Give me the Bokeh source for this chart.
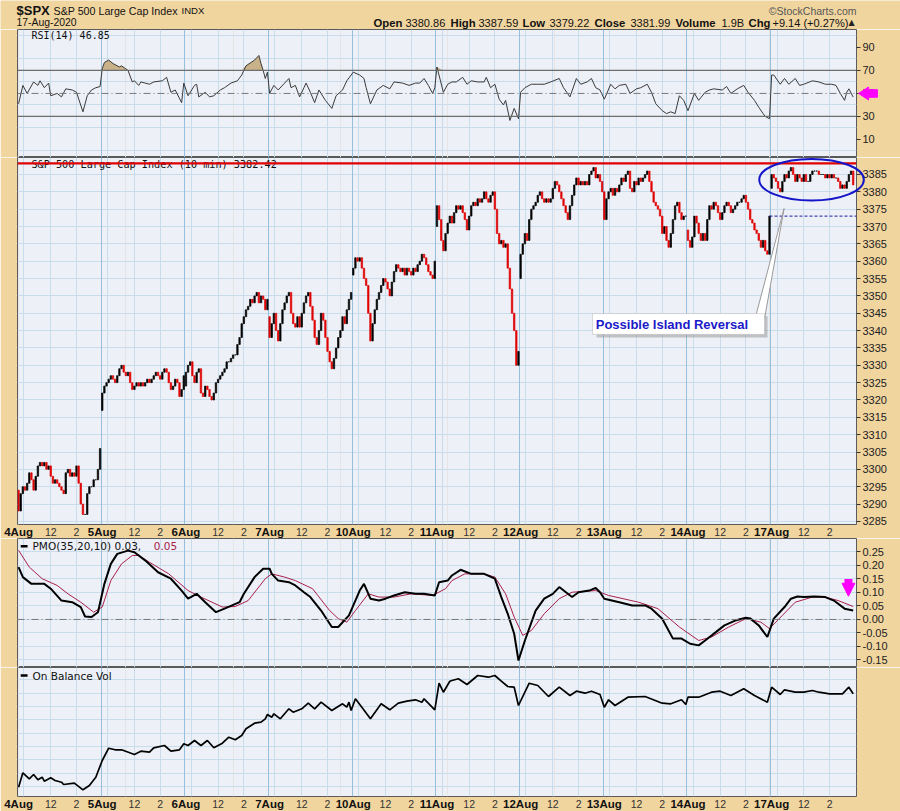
from bokeh.plotting import figure
from bokeh.layouts import column
from bokeh.models import (Range1d, FixedTicker, Grid, Span, Label, Arrow, NormalHead,
                          BoxAnnotation, PrintfTickFormatter, ColumnDataSource)
from bokeh.core.properties import value
from bokeh.embed import file_html
from bokeh.resources import INLINE

# ---------------- data ----------------
day_labels = ["4Aug", "5Aug", "6Aug", "7Aug", "10Aug", "11Aug", "12Aug", "13Aug", "14Aug", "17Aug"]
hour_labels = ["12", "2"]
BARS_PER_DAY = 39          # 10-minute bars 9:30-16:00
HOUR_OFFSETS = [15, 27]    # 12:00 and 14:00 bars
TEN_OFFSET = 2.5           # 10:00

day_opens = [3294, 3317, 3324, 3344, 3356, 3370, 3355, 3380, 3369, 3381]

close_0804 = [3288, 3293, 3295, 3294, 3296, 3299, 3297, 3294, 3298, 3301, 3302, 3301, 3302, 3300, 3301, 3298, 3296, 3297, 3296, 3295,
              3294, 3293, 3299, 3300, 3298, 3299, 3298, 3301, 3296, 3290, 3287, 3287, 3293, 3295, 3295, 3297, 3297, 3300, 3306]
close_0805 = [3322, 3324, 3325, 3326, 3327, 3326, 3325, 3327, 3329, 3330, 3328, 3327, 3328, 3325, 3323, 3324, 3325, 3324, 3325, 3324,
              3325, 3326, 3325, 3326, 3327, 3328, 3327, 3326, 3328, 3329, 3328, 3325, 3323, 3324, 3326, 3325, 3321, 3323, 3327]
close_0806 = [3328, 3330, 3331, 3327, 3325, 3328, 3329, 3322, 3321, 3324, 3323, 3321, 3320, 3322, 3325, 3326, 3327, 3328, 3329, 3331,
              3331, 3332, 3333, 3333, 3336, 3338, 3342, 3344, 3346, 3347, 3349, 3348, 3350, 3351, 3348, 3350, 3349, 3346, 3349]
close_0807 = [3338, 3342, 3345, 3340, 3337, 3342, 3346, 3348, 3350, 3351, 3345, 3342, 3341, 3344, 3341, 3345, 3348, 3350, 3351, 3347,
              3343, 3338, 3336, 3340, 3345, 3343, 3338, 3334, 3331, 3329, 3332, 3335, 3338, 3340, 3344, 3342, 3346, 3349, 3351]
close_0810 = [3358, 3361, 3360, 3361, 3358, 3355, 3353, 3345, 3337, 3342, 3346, 3349, 3351, 3353, 3355, 3354, 3352, 3350, 3354, 3357,
              3359, 3358, 3357, 3358, 3356, 3358, 3357, 3356, 3358, 3357, 3359, 3360, 3362, 3361, 3359, 3357, 3356, 3355, 3360]
close_0811 = [3376, 3372, 3366, 3363, 3368, 3371, 3373, 3371, 3374, 3376, 3375, 3376, 3374, 3372, 3369, 3373, 3376, 3377, 3376, 3378,
              3377, 3378, 3380, 3378, 3377, 3379, 3380, 3375, 3368, 3365, 3366, 3364, 3365, 3358, 3352, 3345, 3340, 3330, 3334]
close_0812 = [3362, 3365, 3368, 3366, 3372, 3375, 3376, 3377, 3379, 3380, 3378, 3377, 3378, 3377, 3378, 3381, 3383, 3382, 3380, 3378,
              3376, 3374, 3372, 3376, 3379, 3382, 3384, 3382, 3383, 3382, 3383, 3382, 3385, 3386, 3387, 3384, 3385, 3383, 3380]
close_0813 = [3372, 3378, 3380, 3381, 3379, 3381, 3380, 3382, 3384, 3383, 3385, 3386, 3381, 3380, 3383, 3382, 3384, 3383, 3384, 3385,
              3386, 3383, 3380, 3377, 3376, 3375, 3373, 3368, 3370, 3366, 3364, 3368, 3372, 3376, 3377, 3374, 3372, 3373, 3373]
close_0814 = [3366, 3364, 3367, 3373, 3371, 3368, 3366, 3368, 3366, 3372, 3376, 3375, 3377, 3376, 3374, 3372, 3374, 3376, 3377, 3376,
              3374, 3375, 3376, 3377, 3377, 3378, 3379, 3377, 3375, 3372, 3371, 3369, 3368, 3366, 3364, 3366, 3363, 3362, 3373]
close_0817 = [3385, 3384, 3383, 3381, 3380, 3383, 3385, 3384, 3386, 3387, 3385, 3383, 3385, 3384, 3383, 3385, 3383, 3383, 3385, 3386,
              3386, 3386, 3385, 3385, 3385, 3384, 3385, 3384, 3385, 3384, 3384, 3383, 3381, 3382, 3381, 3383, 3385, 3386, 3382]
closes_by_day = [close_0804, close_0805, close_0806, close_0807, close_0810,
                 close_0811, close_0812, close_0813, close_0814, close_0817]

RESISTANCE = 3388.2

# (bar index, value)
rsi_points = [(0, 41), (2, 57), (4, 50), (7, 60), (9, 57), (10, 61), (12, 55), (14, 59), (15, 48), (18, 50), (20, 47), (22, 54),
              (25, 53), (27, 51), (30, 34), (32, 48), (34, 53), (36, 55), (38, 56), (39, 71.5), (40, 77), (42, 79), (44, 76),
              (47, 73), (48, 74), (51, 70), (53, 60), (54, 61), (56, 57), (57, 60), (61, 58), (63, 60), (67, 61), (69, 64),
              (71, 51), (73, 53), (76, 42), (77, 59), (79, 48), (82, 57), (83, 58), (84, 47), (87, 51), (89, 47), (91, 48),
              (94, 53), (96, 55), (99, 59), (102, 61), (104, 66), (106, 74), (110, 79), (112, 83), (113, 76), (114, 70),
              (115, 63), (116, 68.5), (117, 50), (119, 57), (121, 53), (124, 59), (126, 63), (127, 55), (129, 57), (131, 47),
              (133, 55), (134, 59), (136, 51), (138, 42), (140, 53), (143, 44), (146, 37), (148, 48), (151, 53), (153, 61),
              (156, 68.5), (159, 66), (161, 63), (162, 55), (164, 41), (167, 53), (170, 57), (173, 54), (175, 60), (179, 59),
              (182, 57), (185, 59), (187, 59), (189, 63), (191, 57), (193, 50), (194, 55), (195, 73), (198, 51), (200, 58),
              (202, 60), (204, 60), (207, 64), (209, 58), (211, 61), (214, 60), (217, 60), (218, 64), (220, 55), (222, 58),
              (224, 45), (226, 40), (227, 44), (229, 26.5), (231, 37), (233, 28), (234, 51), (236, 55), (239, 58), (242, 58),
              (245, 58), (248, 60), (252, 63), (254, 55), (257, 47), (260, 63), (262, 58), (265, 60), (267, 63), (269, 55),
              (271, 53), (273, 45), (276, 58), (278, 54), (280, 57), (283, 58), (285, 50), (288, 54), (290, 55), (293, 58),
              (295, 51), (297, 41), (300, 35), (302, 32.5), (304, 34), (306, 32.5), (308, 48), (310, 44), (312, 35), (315, 50),
              (317, 44), (320, 51), (322, 53), (324, 54), (328, 53), (330, 56), (332, 50), (335, 54), (338, 57), (340, 51),
              (343, 44), (345, 38), (347, 32.5), (348, 30), (350, 28), (351, 66), (352, 66), (355, 58), (357, 63), (359, 58),
              (362, 63), (364, 57), (366, 58), (370, 61), (373, 60), (376, 58), (379, 58), (381, 57), (383, 50), (385, 44),
              (386, 51), (387, 54), (389, 46.85)]

pmo_points = [(0, 0.194), (2, 0.157), (6, 0.132), (12, 0.132), (15, 0.114), (20, 0.070), (25, 0.064), (29, 0.046), (31, 0.011),
              (34, 0.009), (37, 0.027), (40, 0.132), (43, 0.206), (46, 0.243), (51, 0.255), (54, 0.249), (59, 0.219), (65, 0.175),
              (71, 0.151), (76, 0.107), (79, 0.077), (83, 0.095), (87, 0.064), (92, 0.027), (96, 0.040), (103, 0.064),
              (105, 0.095), (110, 0.157), (114, 0.188), (117, 0.188), (118, 0.169), (121, 0.144), (126, 0.138), (129, 0.126),
              (133, 0.101), (136, 0.083), (141, 0.033), (146, -0.028), (149, -0.028), (154, 0.015), (159, 0.107), (161, 0.132),
              (164, 0.077), (168, 0.070), (171, 0.077), (175, 0.089), (180, 0.101), (185, 0.095), (189, 0.095), (194, 0.089),
              (196, 0.138), (200, 0.144), (202, 0.163), (206, 0.184), (211, 0.169), (217, 0.169), (222, 0.151), (225, 0.083),
              (228, 0.021), (231, -0.053), (233, -0.152), (236, -0.078), (241, 0.033), (245, 0.077), (249, 0.095), (252, 0.120),
              (256, 0.095), (258, 0.083), (261, 0.101), (266, 0.107), (269, 0.117), (271, 0.101), (273, 0.077), (280, 0.064),
              (286, 0.052), (292, 0.052), (295, 0.040), (300, 0.003), (305, -0.071), (309, -0.071), (313, -0.090), (317, -0.096),
              (320, -0.078), (325, -0.047), (329, -0.022), (334, -0.004), (339, 0.006), (341, 0.004), (345, -0.022),
              (349, -0.065), (352, 0.003), (357, 0.046), (360, 0.077), (363, 0.085), (366, 0.083), (371, 0.085), (376, 0.083),
              (380, 0.070), (385, 0.040), (389, 0.033)]

pmo_signal_points = [(0, 0.256), (5, 0.194), (11, 0.151), (18, 0.126), (23, 0.095), (29, 0.064), (35, 0.027), (39, 0.046),
                     (43, 0.144), (48, 0.206), (53, 0.237), (56, 0.237), (61, 0.212), (70, 0.169), (79, 0.107), (85, 0.083),
                     (95, 0.046), (101, 0.048), (107, 0.070), (115, 0.151), (118, 0.169), (124, 0.157), (129, 0.144),
                     (137, 0.114), (145, 0.033), (149, 0.003), (153, -0.010), (157, 0.033), (163, 0.095), (168, 0.083),
                     (175, 0.083), (183, 0.095), (193, 0.089), (199, 0.114), (202, 0.144), (208, 0.169), (217, 0.169),
                     (222, 0.157), (227, 0.095), (231, 0.009), (235, -0.059), (239, -0.041), (245, 0.021), (252, 0.077),
                     (258, 0.101), (269, 0.107), (275, 0.089), (289, 0.064), (298, 0.040), (308, -0.028), (317, -0.078),
                     (323, -0.065), (331, -0.028), (339, 0.003), (346, -0.010), (350, -0.034), (356, 0.015), (362, 0.064),
                     (370, 0.083), (376, 0.083), (382, 0.070), (389, 0.048)]

obv_points = [(0, 9.3), (2, 23.7), (5, 17.7), (7, 22), (9, 16.7), (11, 19.3), (12, 15.3), (15, 18.7), (17, 16), (20, 14.3),
              (21, 12), (26, 13.3), (30, 6.7), (33, 11), (36, 19.3), (39, 36), (42, 48.3), (45, 46.7), (48, 46.7), (54, 42),
              (57, 45.3), (61, 44.3), (63, 48.7), (68, 51), (71, 45.3), (75, 46.7), (77, 52.7), (79, 51), (82, 56), (85, 51),
              (88, 56), (91, 48.7), (95, 53.3), (98, 59.3), (101, 56.7), (104, 61), (106, 67.7), (110, 73.3), (113, 74.3),
              (115, 77.7), (116, 82), (118, 79.3), (119, 82.7), (122, 77.7), (126, 87.7), (128, 84.3), (132, 87.7),
              (135, 93.3), (138, 87.7), (141, 94.3), (146, 86), (151, 92.7), (153, 89.3), (154, 94.3), (155, 86),
              (157, 97.7), (160, 89.3), (164, 77.7), (169, 92.7), (173, 86.7), (177, 93.3), (181, 95.3), (185, 96.7),
              (188, 94.3), (189, 97.7), (194, 86.7), (196, 113.3), (198, 104.3), (201, 115.3), (202, 116), (205, 117.7),
              (209, 112), (214, 121), (219, 119.3), (222, 121), (225, 115.3), (228, 110), (231, 109.3), (233, 91),
              (238, 113.3), (242, 111), (247, 100), (252, 109.3), (257, 101), (260, 105.3), (264, 103.3), (267, 105.3),
              (271, 102), (273, 89.3), (275, 96.7), (278, 91), (284, 99.3), (292, 100), (300, 93.3), (304, 92.7),
              (309, 96.7), (311, 92), (312, 99.3), (317, 99.3), (323, 104.3), (327, 105.3), (332, 101), (338, 107.7),
              (343, 101), (349, 94.3), (351, 109.3), (355, 102), (357, 106.7), (362, 104.3), (366, 104.3), (370, 106),
              (373, 104.3), (378, 102.7), (384, 102.7), (387, 109.3), (389, 102.7)]

price_ticks = list(range(3285, 3390, 5))
rsi_ticks = [10, 30, 50, 70, 90]
pmo_ticks = [-0.15, -0.10, -0.05, 0.0, 0.05, 0.10, 0.15, 0.20, 0.25]

header_symbol = "$SPX"
header_name = "S&P 500 Large Cap Index"
header_exch = "INDX"
header_date = "17-Aug-2020"
header_quote = [("Open", "3380.86"), ("High", "3387.59"), ("Low", "3379.22"), ("Close", "3381.99"),
                ("Volume", "1.9B"), ("Chg", "+9.14 (+0.27%)")]
rsi_legend = "RSI(14) 46.85"
price_legend = "S&P 500 Large Cap Index (10 min) 3382.42"
pmo_legend = "PMO(35,20,10) 0.03, "
pmo_signal_legend = "0.05"
obv_legend = "On Balance Vol"
note_text = "Possible Island Reversal"

# ---------------- layout / style ----------------
W = 900
LB, RB = 17, 44
XR = (-0.5, 390.55)
TAN = "#F1D59F"
PANEL_BG = "#EDF0F7"
GRID_C = "#C9DCEB"
DAYGRID_C = "#96BFDC"
MAG = "#FF00FF"
SANS = "Liberation Sans"
MONO = "DejaVu Sans Mono"

x_range = Range1d(*XR)
nd = len(day_labels)
day_grid = [BARS_PER_DAY * d - 0.5 for d in range(1, nd)]
hour_grid = [BARS_PER_DAY * d + o for d in range(nd) for o in [TEN_OFFSET] + HOUR_OFFSETS]


def base_fig(**kw):
    return figure(output_backend="svg", toolbar_location=None, title=None, frame_align=False, **kw)


def panel(height, yr, yticks, gridticks, show_axis=True, fmt=None, bottom=0):
    p = base_fig(width=W, height=height, x_range=x_range, y_range=Range1d(*yr),
                 x_axis_location=None, y_axis_location="right" if show_axis else None,
                 min_border_left=LB, min_border_right=RB, min_border_top=0, min_border_bottom=bottom,
                 border_fill_color=TAN, background_fill_color=PANEL_BG,
                 outline_line_color="#5a5a5a", outline_line_width=1)
    p.ygrid.visible = False
    p.add_layout(Grid(dimension=1, ticker=FixedTicker(ticks=gridticks), grid_line_color=GRID_C))
    p.add_layout(Grid(dimension=0, ticker=FixedTicker(ticks=hour_grid), grid_line_color=GRID_C))
    p.add_layout(Grid(dimension=0, ticker=FixedTicker(ticks=day_grid), grid_line_color=DAYGRID_C))
    if show_axis:
        ax = p.yaxis[0]
        ax.ticker = FixedTicker(ticks=yticks)
        ax.axis_line_color = None
        ax.major_tick_out = 4
        ax.major_tick_in = 0
        ax.minor_tick_line_color = None
        ax.major_tick_line_color = "#333333"
        ax.major_label_text_font = SANS
        ax.major_label_text_font_size = "11px"
        ax.major_label_text_color = "#222222"
        ax.major_label_standoff = 2
        if fmt:
            ax.formatter = PrintfTickFormatter(format=fmt)
    return p


def time_labels(p, y):
    # date / hour labels drawn in the panel's bottom border (overlay level -> not clipped)
    p.text(x=[BARS_PER_DAY * d for d in range(nd)], y=[y] * nd, text=day_labels,
           text_font=value(SANS), text_font_style="bold", text_font_size="11.5px",
           text_color="#111111", text_align="center", text_baseline="middle", level="overlay")
    hx, ht = [], []
    for d in range(nd):
        for o, lab in zip(HOUR_OFFSETS, hour_labels):
            hx.append(BARS_PER_DAY * d + o)
            ht.append(lab)
    p.text(x=hx, y=[y] * len(hx), text=ht, text_font=value(SANS), text_font_size="10.5px",
           text_color="#333333", text_align="center", text_baseline="middle", level="overlay")


# ---------------- header ----------------
hdr = base_fig(width=W, height=29, x_range=Range1d(0, W), y_range=Range1d(29, 0),
               x_axis_location=None, y_axis_location=None, min_border=0,
               border_fill_color=TAN, background_fill_color=TAN, outline_line_color=None)
hdr.xgrid.visible = False
hdr.ygrid.visible = False
ROW1, ROW2 = 10, 22
hdr.text(x=[16], y=[ROW1], text=[header_symbol], text_font=value(SANS), text_font_style="bold",
         text_font_size="13px", text_color="#111111", text_baseline="middle")
hdr.text(x=[53], y=[ROW1], text=[header_name], text_font=value(SANS),
         text_font_size="10.7px", text_color="#111111", text_baseline="middle")
hdr.text(x=[181], y=[ROW1], text=[header_exch], text_font=value(SANS),
         text_font_size="9.6px", text_color="#111111", text_baseline="middle")
hdr.text(x=[856], y=[ROW1], text=["\u00a9StockCharts.com"], text_font=value(SANS),
         text_font_size="10.5px", text_color="#555555", text_align="right", text_baseline="middle")
hdr.text(x=[16], y=[ROW2], text=[header_date], text_font=value(SANS),
         text_font_size="10.4px", text_color="#111111", text_baseline="middle")
quote_x = [(373, 405), (450, 478), (522, 549), (594, 630), (675, 721), (748, 772)]
for (lab, val), (xl, xv) in zip(header_quote, quote_x):
    hdr.text(x=[xl], y=[ROW2], text=[lab], text_font=value(SANS), text_font_style="bold",
             text_font_size="11.3px", text_color="#111111", text_baseline="middle")
    hdr.text(x=[xv], y=[ROW2], text=[val], text_font=value(SANS),
             text_font_size="11px", text_color="#111111", text_baseline="middle")
hdr.text(x=[848], y=[ROW2], text=["\u25b2"], text_font=value("DejaVu Sans"),
         text_font_size="8px", text_color="#222222", text_baseline="middle")

# ---------------- RSI ----------------
rsi = panel(128, (-5.7, 105.6), rsi_ticks, [0, 20, 40, 60, 80, 100])
rx = [b for b, _ in rsi_points]
ry = [v for _, v in rsi_points]
rsi.varea(x=rx, y1=[70] * len(rx), y2=[max(v, 70) for v in ry], fill_color="#C9B18A", fill_alpha=1)
for lvl in (70, 30):
    rsi.add_layout(Span(location=lvl, dimension="width", line_color="#6e6e6e", line_width=1.3))
rsi.add_layout(Span(location=50, dimension="width", line_color="#7a7a7a", line_width=1, line_dash="7 3 1 3"))
rsi.line(rx, ry, line_color="#3a3a3a", line_width=1)
rsi.text(x=[6.0], y=[100.4], text=[rsi_legend], text_font=value(MONO), text_font_size="10px",
         text_color="#111111", text_baseline="middle")
rsi.patch(x=[391.5, 396.2, 396.2, 400.3, 400.3, 396.2, 396.2],
          y=[50, 55.65, 53.3, 53.3, 46.7, 46.7, 44.35],
          fill_color=MAG, line_color=MAG, line_width=1, level="overlay")

# ---------------- price ----------------
PRICE_YR = (3284.1, 3389.9)
pr = panel(381, PRICE_YR, price_ticks, price_ticks, bottom=14)
xs, opens, closes = [], [], []
for d, day in enumerate(closes_by_day):
    prev = day_opens[d]
    for k, c in enumerate(day):
        xs.append(d * BARS_PER_DAY + k)
        opens.append(prev)
        closes.append(c)
        prev = c
src = ColumnDataSource(dict(
    x=xs,
    top=[max(o, c) for o, c in zip(opens, closes)],
    bottom=[min(o, c) for o, c in zip(opens, closes)],
    color=["#E00000" if c < o else "#000000" for o, c in zip(opens, closes)],
))
pr.text(x=[6.0], y=[3388.0], text=[price_legend], text_font=value(MONO), text_font_size="10.2px",
        text_color="#111111", text_baseline="middle")
pr.vbar(x="x", top="top", bottom="bottom", width=0.66, fill_color="color", line_color="color",
        line_width=0.7, source=src)
pr.add_layout(Span(location=RESISTANCE, dimension="width", line_color="#E00000", line_width=2.2))

gap_level = close_0814[-1]
gap_start = 9 * BARS_PER_DAY - 1
pr.segment(x0=[gap_start], y0=[gap_level], x1=[XR[1]], y1=[gap_level],
           line_color="#1a1aa0", line_width=1, line_dash="3 2")

isl_x = [9 * BARS_PER_DAY + k for k in range(BARS_PER_DAY)]
pr.ellipse(x=[sum(isl_x) / len(isl_x) - 0.4], y=[(max(close_0817) + min(close_0817)) / 2],
           width=[BARS_PER_DAY * 1.25], height=[(max(close_0817) - min(close_0817)) + 5],
           fill_color=None, line_color="#1414C8", line_width=2, level="overlay")

pr.patch(x=[343.9, 347.7, 356.8], y=[3344.9, 3343.5, 3375.2], fill_color="white",
         line_color="#9a9a9a", line_width=1)
pr.add_layout(BoxAnnotation(left=269.4, right=349.1, top=3344.1, bottom=3338.0,
                            fill_color="#9a9a9a", fill_alpha=0.55, line_alpha=0))
pr.add_layout(BoxAnnotation(left=267.5, right=347.7, top=3344.9, bottom=3338.9,
                            fill_color="white", fill_alpha=1, line_color="#8a8a8a", line_width=1))
pr.add_layout(Label(x=269.0, y=3341.9, text=note_text, text_font=SANS, text_font_style="bold",
                    text_font_size="13px", text_color="#1A1AC8", text_baseline="middle"))
# label row sits 7px below the frame (367 px frame height)
time_labels(pr, PRICE_YR[0] - 7 * (PRICE_YR[1] - PRICE_YR[0]) / 367)

# ---------------- PMO ----------------
pmo = panel(129, (-0.178, 0.300), pmo_ticks, pmo_ticks, fmt="%.2f")
pmo.add_layout(Span(location=0, dimension="width", line_color="#7a7a7a", line_width=1, line_dash="7 3 1 3"))
sx = [b for b, _ in pmo_signal_points]
sy = [v for _, v in pmo_signal_points]
pmo.line(sx, sy, line_color="#A8204A", line_width=1)
px_ = [b for b, _ in pmo_points]
py_ = [v for _, v in pmo_points]
pmo.line(px_, py_, line_color="#000000", line_width=2)
pmo.segment(x0=[1.0], y0=[0.271], x1=[4.2], y1=[0.271], line_color="#000000", line_width=2.5)
pmo.text(x=[6.5], y=[0.271], text=[pmo_legend], text_font=value("DejaVu Sans"), text_font_size="10.5px",
         text_color="#111111", text_baseline="middle")
pmo.text(x=[63.0], y=[0.271], text=[pmo_signal_legend], text_font=value("DejaVu Sans"), text_font_size="10.5px",
         text_color="#A8204A", text_baseline="middle")
pmo.add_layout(Arrow(end=None, x_start=386.8, y_start=0.150, x_end=386.8, y_end=0.125,
                     line_color=MAG, line_width=8))
pmo.add_layout(Arrow(end=NormalHead(size=13, fill_color=MAG, line_color=MAG),
                     x_start=386.8, y_start=0.128, x_end=386.8, y_end=0.086, line_alpha=0, line_width=1))

# ---------------- OBV ----------------
obv_grid = [10 + 13.33 * k for k in range(9)]
obv = panel(144, (0, 129), [], obv_grid, show_axis=False, bottom=15)
ox = [b for b, _ in obv_points]
oy = [v for _, v in obv_points]
obv.line(ox, oy, line_color="#000000", line_width=1.7)
obv.segment(x0=[1.0], y0=[121], x1=[4.2], y1=[121], line_color="#000000", line_width=2.5)
obv.text(x=[6.5], y=[121], text=[obv_legend], text_font=value("DejaVu Sans"), text_font_size="10.5px",
         text_color="#111111", text_baseline="middle")
time_labels(obv, -7.5)

layout = column(hdr, rsi, pr, pmo, obv, spacing=0)
open("out.html", "w").write(file_html(layout, INLINE))
